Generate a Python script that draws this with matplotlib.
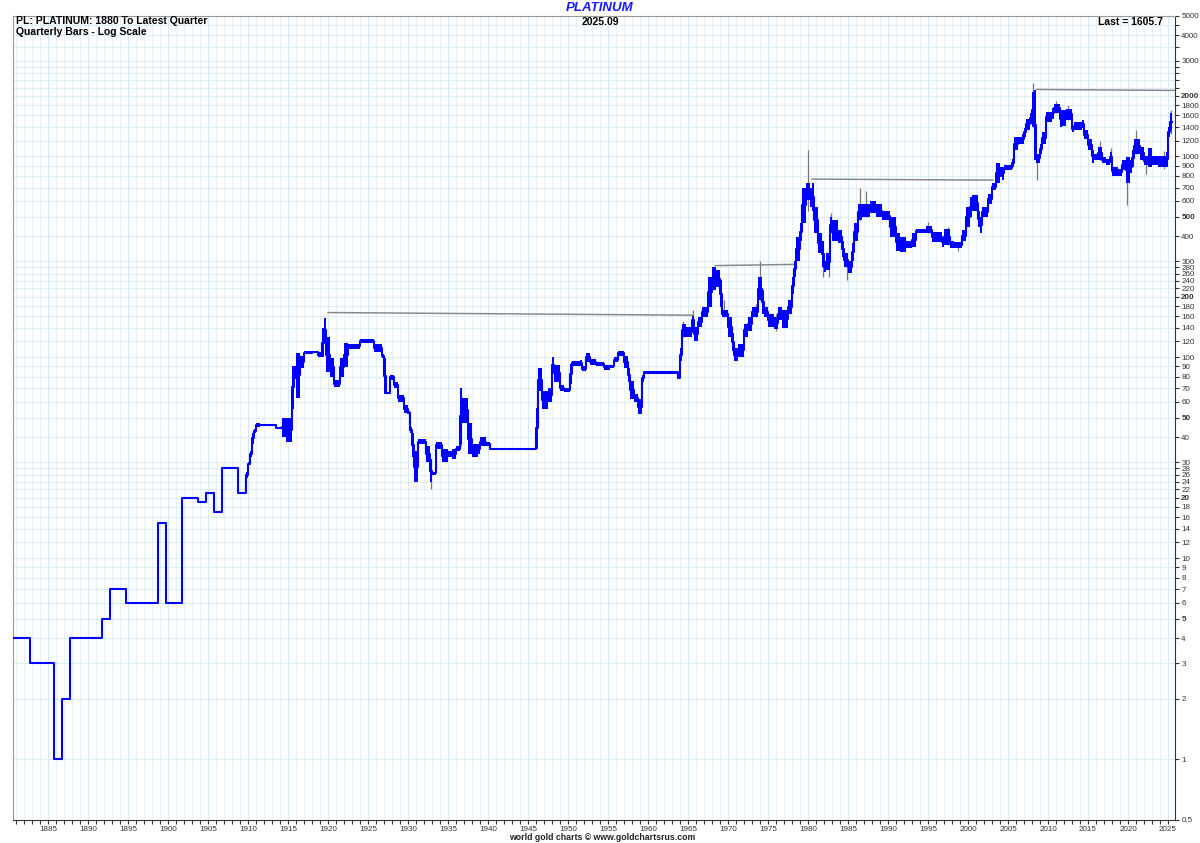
import matplotlib

matplotlib.use("Agg")
import matplotlib.pyplot as plt
import numpy as np

# bar segments: start year, low, high (each lasts until the next start)
seg_start = [
    1879.75, 1882.75, 1885.75, 1886.75, 1887.75, 1891.75, 1892.75, 1894.75, 1898.75, 1899.75,
    1901.75, 1903.75, 1904.75, 1905.75, 1906.75, 1908.75, 1909.75, 1910.0, 1910.25, 1910.5,
    1910.75, 1911.0, 1911.5, 1913.5, 1914.25, 1914.75, 1915.5, 1915.75, 1916.0, 1916.5,
    1917.0, 1918.0, 1918.75, 1919.25, 1919.5, 1919.75, 1920.25, 1920.75, 1921.5, 1922.0,
    1922.5, 1924.0, 1925.75, 1926.75, 1927.0, 1927.25, 1927.75, 1928.25, 1928.75, 1929.5,
    1930.0, 1930.25, 1930.5, 1930.75, 1931.25, 1932.25, 1932.75, 1933.0, 1933.5, 1934.25,
    1935.0, 1935.5, 1936.0, 1936.5, 1936.75, 1937.5, 1938.0, 1938.75, 1939.0, 1939.75,
    1940.25, 1946.0, 1946.25, 1946.75, 1947.5, 1948.0, 1948.25, 1949.0, 1949.5, 1950.25,
    1950.5, 1951.5, 1951.75, 1952.25, 1952.75, 1953.5, 1954.5, 1955.25, 1955.75, 1956.25,
    1957.0, 1957.5, 1957.75, 1958.25, 1958.75, 1959.25, 1959.5, 1963.75, 1964.0, 1964.25,
    1964.75, 1965.5, 1965.75, 1966.25, 1966.75, 1967.5, 1968.0, 1968.5, 1969.0, 1969.25,
    1970.0, 1970.5, 1970.75, 1971.25, 1972.0, 1972.5, 1973.0, 1973.75, 1974.25, 1974.5,
    1975.0, 1975.75, 1976.25, 1976.75, 1977.5, 1978.0, 1978.25, 1978.5, 1979.0, 1979.25,
    1979.75, 1980.25, 1980.5, 1980.75, 1981.25, 1981.75, 1982.0, 1982.25, 1982.75, 1983.0,
    1983.75, 1984.25, 1984.5, 1985.0, 1985.5, 1985.75, 1986.25, 1986.75, 1987.75, 1988.5,
    1989.25, 1990.25, 1991.0, 1991.5, 1992.25, 1993.0, 1993.5, 1994.75, 1995.5, 1996.75,
    1997.0, 1997.75, 1998.25, 1999.25, 1999.75, 2000.25, 2000.5, 2001.25, 2001.5, 2001.75,
    2002.5, 2003.0, 2003.5, 2004.0, 2004.25, 2004.5, 2005.5, 2005.75, 2006.25, 2006.75,
    2007.0, 2007.25, 2007.75, 2008.0, 2008.25, 2008.5, 2009.0, 2009.25, 2009.75, 2010.5,
    2010.75, 2011.5, 2011.75, 2012.25, 2013.0, 2013.25, 2014.25, 2014.5, 2015.0, 2015.5,
    2015.75, 2016.25, 2016.75, 2017.25, 2017.75, 2018.0, 2018.75, 2019.25, 2019.75, 2020.25,
    2020.5, 2020.75, 2021.5, 2022.0, 2022.5, 2023.0, 2023.75, 2024.75, 2025.0, 2025.25,
]
seg_low = [
    4, 3, 1, 2, 4, 5, 7, 6, 15, 6,
    20, 19, 21, 17, 28, 21, 25, 29, 32, 37,
    42, 45, 46, 44, 40, 38, 55, 78, 63, 88,
    104, 105, 100, 100, 120, 84, 80, 71, 80, 89,
    110, 118, 106, 99, 66, 66, 77, 70, 60, 53,
    52, 42, 32, 24, 37, 30, 24, 26, 35, 30,
    32, 31, 34, 37, 47, 33, 32, 33, 36, 36,
    35, 35, 68, 55, 60, 84, 75, 68, 67, 74,
    91, 90, 85, 95, 92, 90, 86, 88, 95, 102,
    88, 75, 62, 60, 52, 75, 83, 78, 96, 126,
    126, 147, 121, 141, 158, 177, 216, 223, 177, 158,
    126, 108, 96, 100, 126, 135, 158, 192, 165, 158,
    141, 138, 153, 140, 165, 207, 250, 303, 380, 464,
    604, 560, 537, 414, 330, 280, 265, 271, 414, 380,
    369, 316, 280, 262, 303, 380, 480, 498, 520, 498,
    480, 397, 340, 334, 350, 356, 414, 414, 375, 356,
    364, 350, 350, 380, 445, 498, 537, 445, 414, 498,
    580, 680, 735, 790, 760, 855, 890, 1073, 1150, 1150,
    1250, 1350, 1450, 1394, 955, 930, 1030, 1150, 1480, 1540,
    1650, 1394, 1420, 1520, 1320, 1350, 1390, 1220, 1073, 930,
    955, 955, 930, 905, 930, 800, 800, 860, 735, 830,
    890, 1030, 955, 905, 890, 905, 890, 890, 1250, 1350,
]
seg_high = [
    4, 3, 1, 2, 4, 5, 7, 6, 15, 6,
    20, 19, 21, 17, 28, 21, 27, 30, 34, 42,
    44, 47, 46, 45, 50, 50, 91, 90, 105, 102,
    107, 108, 106, 140, 156, 126, 99, 77, 99, 118,
    117, 124, 116, 104, 99, 67, 82, 75, 65, 58,
    54, 45, 42, 34, 39, 36, 31, 27, 38, 35,
    34, 35, 36, 70, 63, 47, 37, 37, 40, 38,
    35, 56, 88, 68, 70, 100, 92, 73, 70, 93,
    96, 97, 90, 105, 98, 95, 92, 92, 100, 108,
    102, 88, 76, 66, 62, 82, 85, 80, 111, 147,
    141, 160, 141, 158, 177, 250, 280, 271, 242, 171,
    158, 132, 111, 117, 147, 158, 177, 250, 216, 177,
    165, 158, 177, 171, 192, 250, 303, 397, 464, 700,
    735, 700, 735, 560, 414, 380, 300, 330, 498, 480,
    428, 380, 330, 303, 369, 464, 580, 580, 600, 580,
    537, 498, 414, 397, 380, 414, 437, 450, 420, 397,
    437, 380, 375, 428, 560, 628, 640, 537, 498, 560,
    653, 735, 930, 890, 890, 905, 970, 1250, 1250, 1300,
    1390, 1540, 1650, 2081, 2130, 1030, 1150, 1320, 1660, 1750,
    1820, 1700, 1700, 1730, 1420, 1480, 1510, 1350, 1220, 1073,
    1030, 1120, 990, 970, 1050, 890, 870, 955, 990, 955,
    1073, 1220, 1120, 1000, 1100, 1000, 1000, 1050, 1400, 1640,
]
seg_end = 2025.5

# grey high/low extensions
wick_t = [1909.6, 1932.9, 1936.6, 1964.4, 1965.6, 1969.5, 1973.5, 1974.0, 1976.0, 1980.0,
          1981.9, 1982.6, 1982.9, 1984.9, 1986.5, 1987.3, 1995.0, 1997.5, 1998.8, 2008.1,
          2008.6, 2011.0, 2012.5, 2016.5, 2017.9, 2019.9, 2021.0, 2022.25, 2024.5, 2025.4]
wick_low = [21, 22, 36, 126, 140, 158, 158, 192, 135, 537,
            250, 250, 414, 242, 480, 498, 414, 364, 340, 1394,
            760, 1650, 1520, 955, 930, 570, 1030, 820, 870, 1300]
wick_high = [25, 31, 70, 152, 171, 192, 185, 303, 165, 1073,
             300, 330, 520, 300, 693, 670, 470, 445, 375, 2307,
             1030, 1890, 1800, 1200, 1100, 990, 1350, 1000, 1060, 1700]

# prior-high reference lines
res_x0 = [1920.0, 1968.4, 1980.5, 2008.6]
res_x1 = [1965.6, 1978.4, 2003.1, 2025.9]
res_y0 = [167, 286, 771, 2154]
res_y1 = [162, 290, 762, 2130]

y_ticks = [0.5, 1, 2, 3, 4, 5, 6, 7, 8, 9, 10, 12, 14, 16, 18, 20, 22, 24, 26, 28, 30,
           40, 50, 60, 70, 80, 90, 100, 120, 140, 160, 180, 200, 220, 240, 260, 280, 300,
           400, 500, 600, 700, 800, 900, 1000, 1200, 1400, 1600, 1800, 2000, 3000, 4000, 5000]
y_minor = [2200, 2400, 2600, 2800, 3500, 4500]
bold_ticks = [5, 20, 50, 200, 500, 2000]
x_major = list(range(1885, 2026, 5))

plt.rcParams["font.family"] = ["Liberation Sans", "DejaVu Sans"]

W, H = 1200, 843
fig = plt.figure(figsize=(W / 100, H / 100), dpi=100)
ax = fig.add_axes([13 / W, 23.5 / H, 1162 / W, 803.5 / H])
ax.set_yscale("log")
ax.set_xlim(1880.625, 2025.875)
ax.set_ylim(0.5, 5000)

for yr in range(1881, 2026):
    ax.axvline(yr, color="#d3eaf8" if yr % 5 == 0 else "#e4f2fb", lw=0.8, zorder=0)
for v in y_ticks + y_minor:
    ax.axhline(v, color="#dceefa", lw=0.8, zorder=0)

starts = np.array(seg_start)
ends = np.append(starts[1:], seg_end)
lows = np.array(seg_low, dtype=float)
highs = np.array(seg_high, dtype=float)

ax.vlines(wick_t, wick_low, wick_high, color="#777777", lw=0.9, zorder=2)
ax.bar(starts, highs - lows, bottom=lows, width=ends - starts, align="edge",
       color="#0000ff", linewidth=0, zorder=3)
mid = np.sqrt(lows * highs)
ax.step(np.append(starts, seg_end), np.append(mid, mid[-1]), where="post",
        color="#0000ff", lw=1.5, zorder=3)

for x0, x1, y0, y1 in zip(res_x0, res_x1, res_y0, res_y1):
    ax.plot([x0, x1], [y0, y1], color="#888888", lw=1.1, zorder=2)

ax.yaxis.tick_right()
ax.set_yticks(y_ticks)
ax.set_yticklabels([("%g" % v) for v in y_ticks])
ax.set_yticks(y_minor, minor=True)
ax.yaxis.set_minor_formatter(plt.NullFormatter())
for lab, v in zip(ax.get_yticklabels(), y_ticks):
    if v in bold_ticks:
        lab.set_fontweight("bold")
ax.set_xticks(x_major)
ax.set_xticks(range(1881, 2026), minor=True)
ax.tick_params(axis="both", which="both", direction="out", length=3, width=0.8,
               colors="#333333", labelsize=5.8, pad=1.5)
ax.tick_params(axis="y", which="both", left=False, right=True)

for side in ("top", "left"):
    ax.spines[side].set_color("#999999")
for side in ("right", "bottom"):
    ax.spines[side].set_color("#333333")


def fig_text(x, y, s, **kw):
    fig.text(x / W, 1 - y / H, s, va="center", **kw)


fig_text(600, 8, "PLATINUM", ha="center", color="#1a1aff", fontsize=9.5,
         fontweight="bold", fontstyle="italic")
fig_text(600, 22, "2025.09", ha="center", fontsize=7.5, fontweight="bold")
fig_text(16, 21, "PL: PLATINUM: 1880 To Latest Quarter", ha="left", fontsize=7.5,
         fontweight="bold")
fig_text(16, 32, "Quarterly Bars - Log Scale", ha="left", fontsize=7.5, fontweight="bold")
fig_text(1163, 22, "Last = 1605.7", ha="right", fontsize=7.5, fontweight="bold")
fig_text(602, 838, "world gold charts \u00a9 www.goldchartsrus.com", ha="center",
         fontsize=6.3, fontweight="bold", color="#222222")

fig.savefig("out.png", dpi=100)
